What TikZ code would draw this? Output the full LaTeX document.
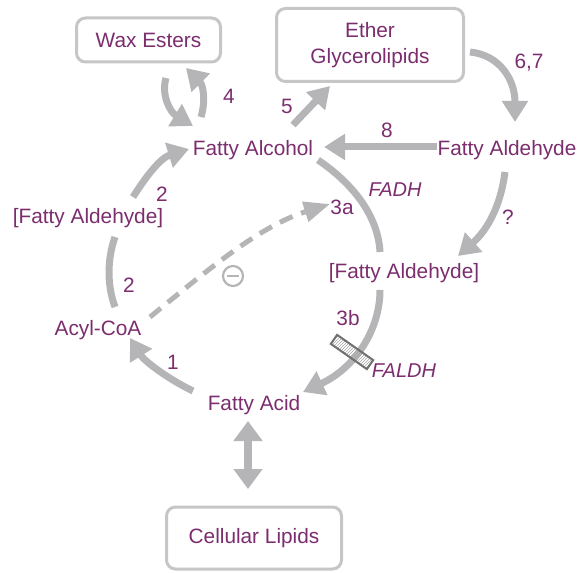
\documentclass[tikz,border=0pt]{standalone}
\usepackage{fontspec}
\setmainfont{Liberation Sans}
\usetikzlibrary{arrows.meta,patterns}
\definecolor{txt}{HTML}{7B2D6E}
\definecolor{arr}{HTML}{B5B5B7}
\definecolor{boxc}{HTML}{C6C6C6}
\definecolor{rectc}{HTML}{707070}
\begin{document}
\begin{tikzpicture}[x=1pt,y=-1pt,
  lab/.style={text=txt,font=\fontsize{20.8}{24}\selectfont,inner sep=0pt},
  enz/.style={text=txt,font=\fontsize{20}{23}\selectfont\itshape,inner sep=0pt},
  pbox/.style={draw=boxc,line width=3pt,rounded corners=9pt,fill=white,text=txt,
    font=\fontsize{20.8}{26}\selectfont,align=center,inner sep=0pt},
  flow/.style={draw=arr,line width=7pt,-{Triangle[length=21pt,width=25pt]}},
  plainarc/.style={draw=arr,line width=7pt},
  dasharrow/.style={draw=arr,line width=5pt,dash pattern=on 14pt off 9pt,
    -{Triangle[length=26pt,width=20pt]}},
  inhib/.style={draw=arr,line width=2.2pt},
  enzbar/.style={draw=rectc,line width=2pt,pattern=north east lines,pattern color=gray!70,
    minimum width=44pt,minimum height=11pt,inner sep=0pt},
]
\useasboundingbox (0,0) rectangle (580,572);

% boxes
\node[pbox,minimum width=144pt,minimum height=44pt] (wax) at (148.5,40) {Wax Esters};
\node[pbox,minimum width=187pt,minimum height=73pt] (ether) at (370,45) {Ether\\Glycerolipids};
\node[pbox,minimum width=175pt,minimum height=62pt] (cell) at (254,538) {Cellular Lipids};

% metabolites
\node[lab] (alc) at (253,150) {Fatty Alcohol};
\node[lab] (ald) at (507,150) {Fatty Aldehyde};
\node[lab] (aldL) at (88,218) {[Fatty Aldehyde]};
\node[lab] (aldR) at (404,273) {[Fatty Aldehyde]};
\node[lab] (acyl) at (98,330) {Acyl-CoA};
\node[lab] (acid) at (254,405) {Fatty Acid};

% step labels
\node[lab] (n4) at (229,96) {4};
\node[lab] (n5) at (287,106) {5};
\node[lab] (n67) at (529,63) {6,7};
\node[lab] (n8) at (387,130) {8};
\node[lab] (n3a) at (342,207) {3a};
\node[lab] (nq) at (508,217) {?};
\node[lab] (n2a) at (162,194) {2};
\node[lab] (n2b) at (129,285) {2};
\node[lab] (n1) at (173,362) {1};
\node[lab] (n3b) at (348,318) {3b};
\node[enz] (fadh) at (395,190) {FADH};
\node[enz] (faldh) at (404,371) {FALDH};

% endpoints
\coordinate (w1s) at (166,78);   \coordinate (w1e) at (193,126);
\coordinate (w2s) at (201,117);  \coordinate (w2e) at (186,68);
\coordinate (e5s) at (293,125);  \coordinate (e5e) at (330,86);
\coordinate (e6s) at (470,52);   \coordinate (e6e) at (515,122);
\coordinate (e8s) at (437,147);  \coordinate (e8e) at (324,147);
\coordinate (eqs) at (505,172);  \coordinate (eqe) at (458,256);
\coordinate (fas) at (318,160);  \coordinate (fae) at (380,252);
\coordinate (fbs) at (380,290);  \coordinate (fbe) at (303,392);
\coordinate (a1s) at (193,391);  \coordinate (a1e) at (130,338);
\coordinate (a2s) at (115,307);  \coordinate (a2e) at (115,237);
\coordinate (a3s) at (133,197);  \coordinate (a3e) at (189,149);
\coordinate (ds) at (150,317);   \coordinate (de) at (330,204);
\coordinate (cu) at (248,421);   \coordinate (cd) at (248,489);

% wax ester exchange
\draw[flow] (w1s) .. controls (161,95) and (170,112) .. (w1e);
\draw[flow] (w2s) .. controls (206,100) and (203,85) .. (w2e);
% 5
\draw[flow] (e5s) -- (e5e);
% 6,7
\draw[flow] (e6s) .. controls (500,55) and (515,80) .. (e6e);
% 8
\draw[flow] (e8s) -- (e8e);
% ?
\draw[flow] (eqs) .. controls (500,210) and (485,232) .. (eqe);
% FADH arc
\draw[plainarc] (fas) .. controls (352,183) and (378,215) .. (fae);
% FALDH arc
\draw[flow] (fbs) .. controls (380,330) and (355,368) .. (fbe);
\node[enzbar,rotate=-35] (bar) at (352,352) {};
% left cycle
\draw[flow] (a1s) .. controls (170,380) and (145,362) .. (a1e);
\draw[plainarc] (a2s) .. controls (107,285) and (107,260) .. (a2e);
\draw[flow] (a3s) .. controls (145,178) and (160,158) .. (a3e);
% dashed inhibitory arrow
\draw[dasharrow] (ds) .. controls (210,268) and (260,226) .. (de);
\node[draw=arr,line width=2.2pt,circle,minimum size=20pt,inner sep=0pt] (minus) at (233,276) {};
\draw[inhib] ([xshift=-6pt]minus.center) -- ([xshift=6pt]minus.center);
% fatty acid <-> cellular lipids
\draw[draw=arr,line width=8pt,{Triangle[length=20pt,width=28pt]}-{Triangle[length=20pt,width=28pt]}] (cu) -- (cd);
\end{tikzpicture}
\end{document}
